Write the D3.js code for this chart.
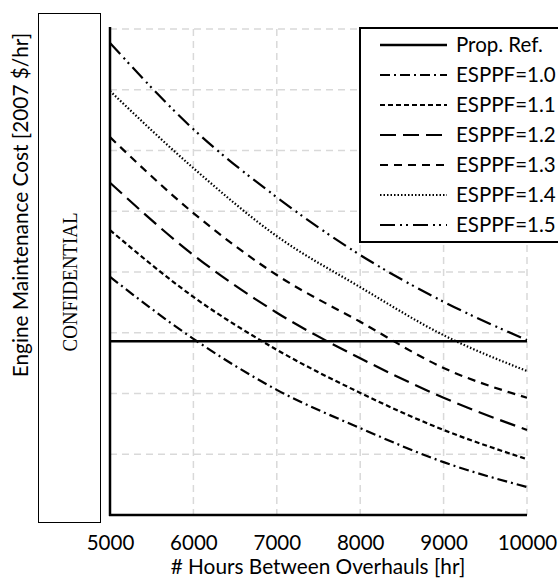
<!DOCTYPE html>
<html>
<head>
<meta charset="utf-8">
<script src="https://cdn.jsdelivr.net/npm/d3@7"></script>
<style>
  html, body { margin: 0; padding: 0; background: #fff; }
  svg { display: block; }
  text { font-family: Lato, "Open Sans", sans-serif; fill: #000; }
</style>
</head>
<body>
<svg id="chart" width="558" height="579"></svg>
<script>
// Hours between overhauls (x) and relative maintenance cost per curve
const hours = [5000, 6000, 7000, 8000, 9000, 10000];
const xTicks = [5000, 6000, 7000, 8000, 9000, 10000];
const yGrid = [1, 2, 3, 4, 5, 6, 7, 8];

const propRef = 2.86;
const esppf10 = [3.92, 2.90, 2.06, 1.43, 0.87, 0.46];
const esppf11 = [4.69, 3.59, 2.72, 2.01, 1.40, 0.92];
const esppf12 = [5.47, 4.28, 3.33, 2.58, 1.93, 1.40];
const esppf13 = [6.22, 4.97, 3.95, 3.18, 2.42, 1.93];
const esppf14 = [6.98, 5.71, 4.59, 3.75, 2.96, 2.37];
const esppf15 = [7.77, 6.35, 5.23, 4.28, 3.51, 2.88];

const seriesNames = ["ESPPF=1.0", "ESPPF=1.1", "ESPPF=1.2", "ESPPF=1.3", "ESPPF=1.4", "ESPPF=1.5"];
const seriesValues = [esppf10, esppf11, esppf12, esppf13, esppf14, esppf15];
const dashes = ["10,4,2,4", "5,3", "16,7", "8,6", "1.5,2", "15,5,2,4,2,5"];

const svg = d3.select("#chart");
const x = d3.scaleLinear().domain([5000, 10000]).range([110, 527]);
const y = d3.scaleLinear().domain([0, 8]).range([515, 29]);

// grid
const grid = svg.append("g").attr("stroke", "#d9d9d9").attr("stroke-width", 1.5)
  .attr("stroke-dasharray", "7,5");
grid.selectAll("line.h").data(yGrid).join("line")
  .attr("x1", x(5000)).attr("x2", x(10000))
  .attr("y1", d => y(d)).attr("y2", d => y(d));
grid.selectAll("line.v").data(xTicks.slice(1)).join("line")
  .attr("x1", d => x(d)).attr("x2", d => x(d))
  .attr("y1", y(8)).attr("y2", y(0));

// reference line
svg.append("line")
  .attr("x1", x(5000)).attr("x2", x(10000))
  .attr("y1", y(propRef)).attr("y2", y(propRef))
  .attr("stroke", "#000").attr("stroke-width", 2.4);

// curves
const line = d3.line().x((d, i) => x(hours[i])).y(d => y(d)).curve(d3.curveMonotoneX);
svg.append("g").selectAll("path").data(seriesValues).join("path")
  .attr("d", d => line(d))
  .attr("fill", "none").attr("stroke", "#000").attr("stroke-width", 2.2)
  .attr("stroke-dasharray", (d, i) => dashes[i]);

// axes lines
svg.append("line").attr("x1", x(5000)).attr("x2", x(5000)).attr("y1", 27).attr("y2", y(0) + 1)
  .attr("stroke", "#000").attr("stroke-width", 2.5);
svg.append("line").attr("x1", x(5000) - 1).attr("x2", x(10000)).attr("y1", y(0)).attr("y2", y(0))
  .attr("stroke", "#000").attr("stroke-width", 2.5);

// x axis labels
const xAxis = d3.axisBottom(x).tickValues(xTicks).tickFormat(d3.format("d")).tickSize(0).tickPadding(0);
const gx = svg.append("g").attr("transform", "translate(0,550)").call(xAxis);
gx.select(".domain").remove();
gx.selectAll("text").attr("dy", null).attr("font-size", 20.5)
  .attr("font-family", "Lato").attr("fill", "#000");

svg.append("text").attr("x", 318).attr("y", 574).attr("text-anchor", "middle")
  .attr("font-size", 20.8).text("# Hours Between Overhauls [hr]");

// y axis title
svg.append("text").attr("transform", "translate(28,205) rotate(-90)")
  .attr("text-anchor", "middle").attr("font-size", 20.8)
  .text("Engine Maintenance Cost [2007 $/hr]");

// confidential box
svg.append("rect").attr("x", 38.5).attr("y", 13.5).attr("width", 62).attr("height", 509)
  .attr("fill", "#fff").attr("stroke", "#000").attr("stroke-width", 1);
svg.append("text").attr("transform", "translate(77,282) rotate(-90)")
  .attr("text-anchor", "middle")
  .style("font-family", "'Liberation Serif', serif")
  .attr("font-size", 22).attr("textLength", 139).attr("lengthAdjust", "spacingAndGlyphs")
  .text("CONFIDENTIAL");

// legend
const legendItems = [{ name: "Prop. Ref.", dash: null }].concat(
  seriesNames.map((n, i) => ({ name: n, dash: dashes[i] })));
const lg = svg.append("g");
lg.append("rect").attr("x", 360).attr("y", 28).attr("width", 210).attr("height", 214)
  .attr("fill", "#fff").attr("stroke", "#000").attr("stroke-width", 2);
const rows = lg.selectAll("g.row").data(legendItems).join("g")
  .attr("transform", (d, i) => `translate(0,${45 + i * 30})`);
rows.append("line").attr("x1", 380).attr("x2", 447).attr("y1", 0).attr("y2", 0)
  .attr("stroke", "#000").attr("stroke-width", (d, i) => i === 0 ? 2.4 : 2.2)
  .attr("stroke-dasharray", d => d.dash);
rows.append("text").attr("x", 456).attr("y", 7).attr("font-size", 20.5).text(d => d.name);
</script>
</body>
</html>
